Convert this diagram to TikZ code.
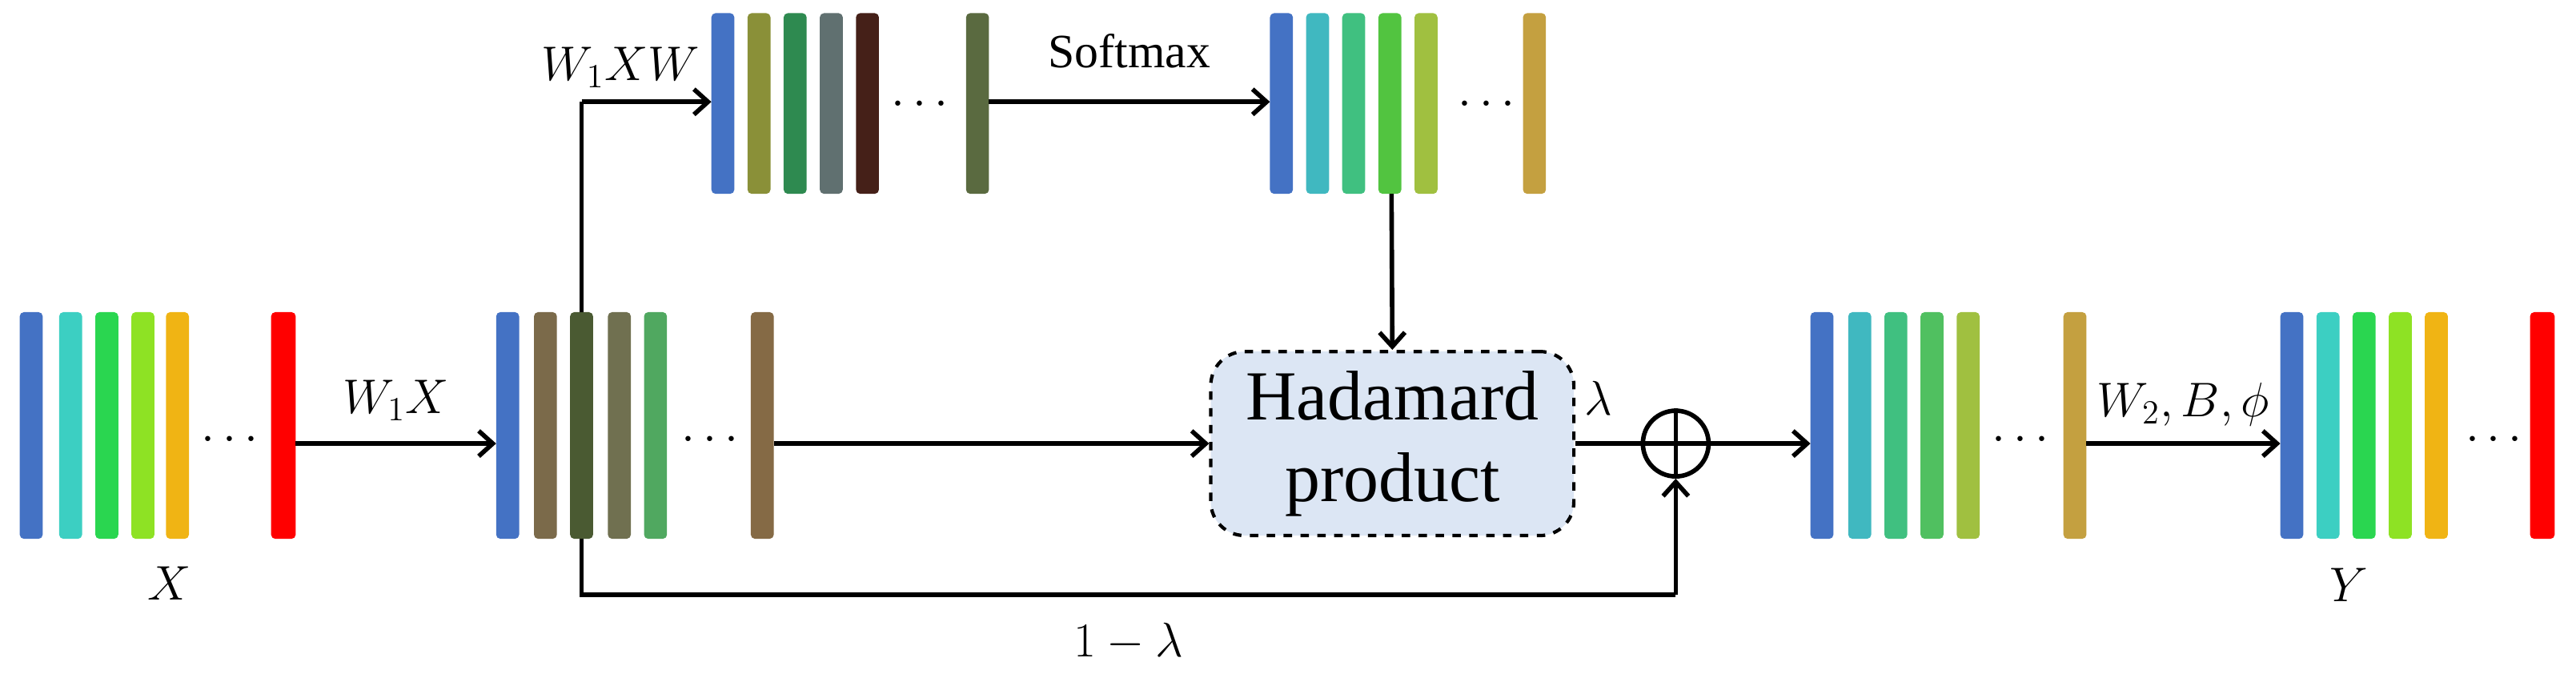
\documentclass[tikz,border=0pt]{standalone}
\usetikzlibrary{arrows.meta}
\usepackage{fontspec}
\setmainfont{Liberation Serif}
\begin{document}
\begin{tikzpicture}[x=0.02052cm,y=-0.02052cm,
  arr/.style={line width=1.6pt,-{Straight Barb[length=5pt,width=9pt]}},
  ln/.style={line width=1.6pt},
  lbl/.style={font=\fontsize{17}{20}\selectfont},
  dots/.style={font=\fontsize{16}{18}\selectfont\bfseries}]
\useasboundingbox (0,0) rectangle (1568,410);
% group X
\foreach \x/\c in {12/4472C4,36/3CCFC2,58/2AD650,80/8EE224,101/F0B414}{
  \definecolor{tmp}{HTML}{\c}\fill[rounded corners=1.5pt,tmp] (\x,190) rectangle (\x+14,328);}
\fill[rounded corners=1.5pt,red] (165,190) rectangle (180,328);
\node[dots] (d1) at (140,268) {$\cdots$};
\node[lbl] (X) at (103,355) {$X$};
% group W1X
\foreach \x/\c in {302/4472C4,325/7B6A4A,347/4A5A32,370/707050,392/50A860}{
  \definecolor{tmp}{HTML}{\c}\fill[rounded corners=1.5pt,tmp] (\x,190) rectangle (\x+14,328);}
\definecolor{tmp}{HTML}{856A45}\fill[rounded corners=1.5pt,tmp] (457,190) rectangle (471,328);
\node[dots] (d2) at (432,268) {$\cdots$};
% top group
\foreach \x/\c in {433/4472C4,455/8A9038,477/2E8A50,499/607070,521/452018}{
  \definecolor{tmp}{HTML}{\c}\fill[rounded corners=1.5pt,tmp] (\x,8) rectangle (\x+14,118);}
\definecolor{tmp}{HTML}{5A6A40}\fill[rounded corners=1.5pt,tmp] (588,8) rectangle (602,118);
\node[dots] (d3) at (560,64) {$\cdots$};
% softmax group
\foreach \x/\c in {773/4472C4,795/40B8C0,817/40C080,839/52C440,861/A0C040}{
  \definecolor{tmp}{HTML}{\c}\fill[rounded corners=1.5pt,tmp] (\x,8) rectangle (\x+14,118);}
\definecolor{tmp}{HTML}{C4A040}\fill[rounded corners=1.5pt,tmp] (927,8) rectangle (941,118);
\node[dots] (d4) at (905,64) {$\cdots$};
% right group 1
\foreach \x/\c in {1102/4472C4,1125/40B8C0,1147/40C080,1169/50C060,1191/A0C040}{
  \definecolor{tmp}{HTML}{\c}\fill[rounded corners=1.5pt,tmp] (\x,190) rectangle (\x+14,328);}
\definecolor{tmp}{HTML}{C4A040}\fill[rounded corners=1.5pt,tmp] (1256,190) rectangle (1270,328);
\node[dots] (d5) at (1230,268) {$\cdots$};
% right group 2
\foreach \x/\c in {1388/4472C4,1410/3CCFC2,1432/2AD650,1454/8EE224,1476/F0B414}{
  \definecolor{tmp}{HTML}{\c}\fill[rounded corners=1.5pt,tmp] (\x,190) rectangle (\x+14,328);}
\fill[rounded corners=1.5pt,red] (1540,190) rectangle (1555,328);
\node[dots] (d6) at (1518,268) {$\cdots$};
\node[lbl] (Y) at (1430,356) {$Y$};
% anchors
\coordinate (xout) at (180,270);
\coordinate (g2in) at (302,270);
\coordinate (g2out) at (471,270);
\coordinate (g2top) at (354,190);
\coordinate (g2bot) at (354,328);
\coordinate (tl) at (354,62);
\coordinate (t1in) at (433,62);
\coordinate (t1out) at (602,62);
\coordinate (t2in) at (773,62);
\coordinate (t2bot) at (847,118);
\coordinate (bl) at (354,362);
\coordinate (r1in) at (1102,270);
\coordinate (r1out) at (1270,270);
\coordinate (r2in) at (1388,270);
\node[draw,dashed,line width=1.2pt,rounded corners=12pt,fill={rgb,255:red,220;green,230;blue,244},
  minimum width=221*0.02052cm,minimum height=112*0.02052cm,align=center,
  font=\fontsize{25}{29}\selectfont] (H) at (847.5,270) {Hadamard\\product};
\node[circle,draw,line width=1.6pt,minimum size=40*0.02052cm,inner sep=0] (S) at (1020,270) {};
\draw[line width=1.6pt] (S.north)--(S.south) (S.west)--(S.east);
\coordinate (br) at (S.south|-bl);
% connectors
\draw[arr] (xout) -- node[lbl,above=4pt] {$W_1X$} (g2in);
\draw[ln] (g2top) -- (tl);
\draw[arr] (tl) -- node[lbl,above=1pt,pos=0.3] {$W_1XW$} (t1in);
\draw[arr] (t1out) -- node[lbl,above=8pt] {Softmax} (t2in);
\draw[arr] (t2bot) -- (H.north);
\draw[arr] (g2out) -- (H.west);
\draw[ln] (H.east) -- node[lbl,above=6pt,pos=0.35] {$\lambda$} (S.west);
\draw[ln] (g2bot) -- (bl) -- node[lbl,below=6pt,pos=0.5] {$1-\lambda$} (br);
\draw[arr] (br) -- (S.south);
\draw[arr] (S.east) -- (r1in);
\draw[arr] (r1out) -- node[lbl,above=2pt] {$W_2,B,\phi$} (r2in);
\end{tikzpicture}
\end{document}
